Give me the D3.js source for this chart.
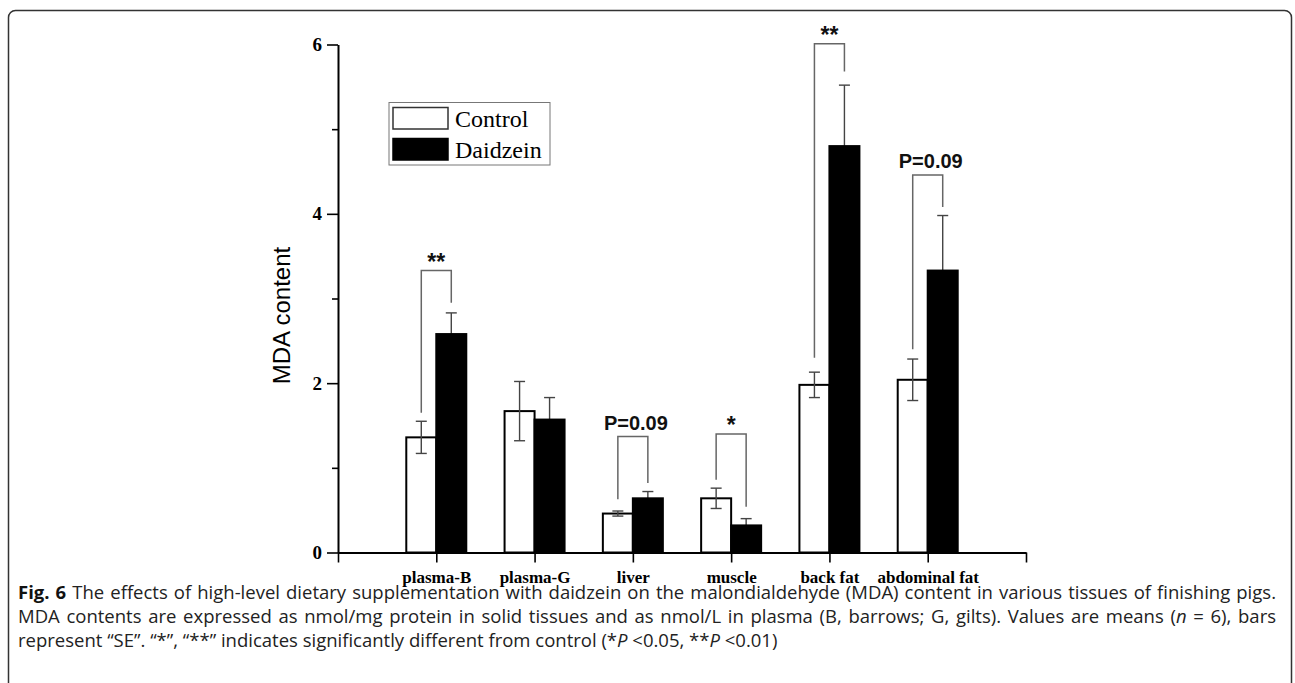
<!DOCTYPE html>
<html lang="en">
<head>
<meta charset="UTF-8" />
<title>MDA content</title>
<style>
  html, body {
    margin: 0;
    padding: 0;
    background: #fff;
    overflow: hidden;
  }
  .serif { font-family: "Liberation Serif", "Times New Roman", serif; }
  .sans { font-family: "Liberation Sans", Arial, sans-serif; }
  .caption {
    font-family: "Open Sans", "Noto Sans", sans-serif;
    font-size: 18.5px;
    fill: #222;
  }
</style>
</head>
<body>
<svg width="1295" height="683"></svg>

<script src="https://d3js.org/d3.v7.min.js"></script>
<script>
// data
const categories = ["plasma-B", "plasma-G", "liver", "muscle", "back fat", "abdominal fat"];
const control    = [1.36, 1.67, 0.46, 0.64, 1.98, 2.04];
const controlSE  = [0.19, 0.35, 0.03, 0.12, 0.15, 0.245];
const daidzein   = [2.58, 1.57, 0.64, 0.32, 4.80, 3.33];
const daidzeinSE = [0.25, 0.26, 0.08, 0.08, 0.72, 0.65];
const seriesNames = ["Control", "Daidzein"];
const yTicks = [0, 2, 4, 6];
const yMinorTicks = [1, 3, 5];

// significance brackets: category index, label, bracket top, left leg end, right leg end
const sigIndex  = [0, 2, 3, 4, 5];
const sigLabel  = ["**", "P=0.09", "*", "**", "P=0.09"];
const sigTop    = [3.33, 1.37, 1.40, 6.01, 4.46];
const sigLeft   = [1.65, 0.63, 0.86, 2.30, 2.40];
const sigRight  = [2.95, 0.82, 0.54, 5.68, 4.08];

// caption lines, as [text, style] runs
const captionLines = [
  [["Fig. 6", "b"], [" The effects of high-level dietary supplementation with daidzein on the malondialdehyde (MDA) content in various tissues of finishing pigs.", ""]],
  [["MDA contents are expressed as nmol/mg protein in solid tissues and as nmol/L in plasma (B, barrows; G, gilts). Values are means (", ""], ["n", "i"], [" = 6), bars", ""]],
  [["represent “SE”. “*”, “**” indicates significantly different from control (*", ""], ["P", "i"], [" <0.05, **", ""], ["P", "i"], [" <0.01)", ""]]
];

const svg = d3.select("svg");

// outer rounded frame
svg.append("rect")
  .attr("x", 8.5).attr("y", 10.5)
  .attr("width", 1283).attr("height", 700)
  .attr("rx", 7)
  .attr("fill", "none")
  .attr("stroke", "#333")
  .attr("stroke-width", 1.5);

const x = d3.scaleLinear().domain([0, categories.length + 1]).range([338, 1026]);
const y = d3.scaleLinear().domain([0, 6]).range([552.5, 44.5]);
const barW = 30;

const g = svg.append("g");

function errorBar(sel, cx, v, se) {
  const e = sel.append("g")
    .attr("stroke", "#444")
    .attr("stroke-width", 1.4);
  e.append("line").attr("x1", cx).attr("x2", cx).attr("y1", y(v - se)).attr("y2", y(v + se));
  e.append("line").attr("x1", cx - 5.5).attr("x2", cx + 5.5).attr("y1", y(v + se)).attr("y2", y(v + se));
  e.append("line").attr("x1", cx - 5.5).attr("x2", cx + 5.5).attr("y1", y(v - se)).attr("y2", y(v - se));
}

categories.forEach((c, i) => {
  const cx = x(i + 1);
  // daidzein error bar goes under its bar, so the lower half is hidden
  errorBar(g, cx + barW / 2, daidzein[i], daidzeinSE[i]);

  g.append("rect")
    .attr("x", cx - barW).attr("y", y(control[i]))
    .attr("width", barW).attr("height", y(0) - y(control[i]))
    .attr("fill", "#fff").attr("stroke", "#000").attr("stroke-width", 2);

  g.append("rect")
    .attr("x", cx).attr("y", y(daidzein[i]))
    .attr("width", barW).attr("height", y(0) - y(daidzein[i]))
    .attr("fill", "#000").attr("stroke", "#000").attr("stroke-width", 2);

  errorBar(g, cx - barW / 2, control[i], controlSE[i]);
});

// significance brackets
sigIndex.forEach((ci, k) => {
  const cx = x(ci + 1);
  const xl = cx - barW / 2, xr = cx + barW / 2;
  g.append("path")
    .attr("d", `M${xl},${y(sigLeft[k])}V${y(sigTop[k])}H${xr}V${y(sigRight[k])}`)
    .attr("fill", "none")
    .attr("stroke", "#666")
    .attr("stroke-width", 1.5);
  const isStar = sigLabel[k].startsWith("*");
  g.append("text")
    .attr("class", "sans")
    .attr("x", cx + (isStar ? 0 : 3))
    .attr("y", y(sigTop[k]) - (isStar ? 1 : 7))
    .attr("text-anchor", "middle")
    .attr("font-weight", "bold")
    .attr("font-size", isStar ? 23 : 20)
    .attr("fill", "#111")
    .text(sigLabel[k]);
});

// x axis
const xAxis = svg.append("g")
  .attr("transform", `translate(0,${y(0)})`)
  .call(d3.axisBottom(x)
    .tickValues(d3.range(0, categories.length + 2))
    .tickSize(10)
    .tickSizeOuter(0)
    .tickPadding(8)
    .tickFormat(d => categories[d - 1] || ""));
xAxis.select(".domain").attr("stroke-width", 2);
xAxis.selectAll(".tick line").attr("stroke-width", 1.6);
xAxis.selectAll(".tick text")
  .attr("class", "serif")
  .attr("font-size", 17)
  .attr("font-weight", "bold")
  .attr("fill", "#000");

// y axis
const yAxis = svg.append("g")
  .attr("transform", `translate(${x(0)},0)`)
  .call(d3.axisLeft(y)
    .tickValues(yTicks)
    .tickSize(11)
    .tickSizeOuter(0)
    .tickPadding(5)
    .tickFormat(d3.format("d")));
yAxis.select(".domain").attr("stroke-width", 2);
yAxis.selectAll(".tick line").attr("stroke-width", 1.6);
yAxis.selectAll(".tick text")
  .attr("class", "serif")
  .attr("font-size", 19)
  .attr("font-weight", "bold")
  .attr("fill", "#000");

svg.append("g")
  .attr("transform", `translate(${x(0)},0)`)
  .call(d3.axisLeft(y).tickValues(yMinorTicks).tickSize(6).tickFormat(""))
  .call(a => a.select(".domain").remove())
  .selectAll(".tick line").attr("stroke-width", 1.6);

svg.append("text")
  .attr("class", "sans")
  .attr("transform", `translate(290,${(y(0) + y(6)) / 2 + 17}) rotate(-90)`)
  .attr("text-anchor", "middle")
  .attr("font-size", 24)
  .attr("fill", "#000")
  .text("MDA content");

// legend
const legend = svg.append("g").attr("transform", "translate(389,102.5)");
legend.append("rect")
  .attr("width", 161).attr("height", 62.5)
  .attr("fill", "#fff").attr("stroke", "#777").attr("stroke-width", 1);
seriesNames.forEach((s, i) => {
  legend.append("rect")
    .attr("x", 4).attr("y", 5 + i * 31)
    .attr("width", 55).attr("height", 21.5)
    .attr("fill", i === 0 ? "#fff" : "#000")
    .attr("stroke", i === 0 ? "#333" : "#000")
    .attr("stroke-width", 1.5);
  legend.append("text")
    .attr("class", "serif")
    .attr("x", 66).attr("y", 24 + i * 31)
    .attr("font-size", 24)
    .attr("fill", "#000")
    .text(s);
});

// caption, first two lines justified to the frame width
const capLeft = 18, capWidth = 1258;
captionLines.forEach((runs, li) => {
  const t = svg.append("text")
    .attr("class", "caption")
    .attr("x", capLeft)
    .attr("y", 599 + li * 24);
  runs.forEach(([txt, st]) => {
    const sp = t.append("tspan").text(txt);
    if (st === "b") sp.attr("font-weight", "bold").attr("fill", "#111");
    if (st === "i") sp.attr("font-style", "italic");
  });
  if (li < captionLines.length - 1) {
    const full = runs.map(r => r[0]).join("");
    const spaces = (full.match(/ /g) || []).length;
    const w = t.node().getComputedTextLength();
    t.attr("word-spacing", (capWidth - w) / spaces);
  }
});
</script>
</body>
</html>
